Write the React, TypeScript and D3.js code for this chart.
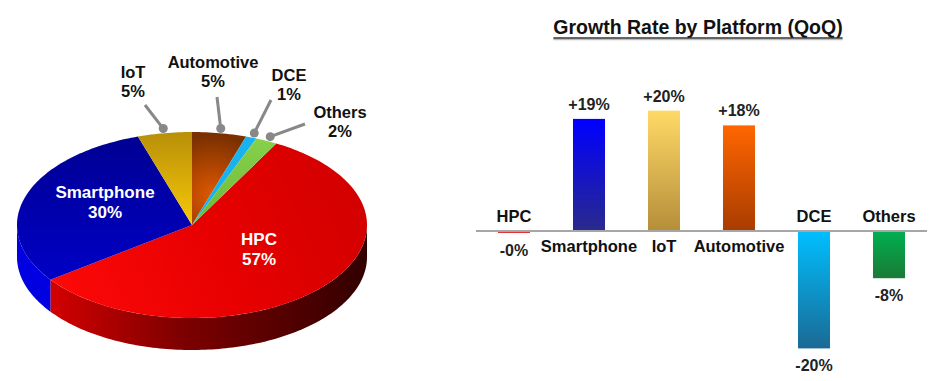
import React, { useLayoutEffect, useRef, useState } from 'react';
import * as d3 from 'd3';

// ---------- data ----------
const pieCategories = ['HPC', 'Smartphone', 'IoT', 'Automotive', 'DCE', 'Others'];
const pieShares = [57, 30, 5, 5, 1, 2];
const barCategories = ['HPC', 'Smartphone', 'IoT', 'Automotive', 'DCE', 'Others'];
const growthRates = [-0.3, 19.0, 20.4, 17.9, -19.9, -8.0];
const growthLabels = ['-0%', '+19%', '+20%', '+18%', '-20%', '-8%'];
const chartTitle = 'Growth Rate by Platform (QoQ)';

// ---------- layout / style ----------
const W = 938, H = 381;
const FONT = 'Liberation Sans, Arial, Helvetica, sans-serif';
const PIE = { cx: 192, cy: 225, rx: 175, ry: 93, depth: 32, start: 0.08 * 2 * Math.PI };
const insideLabels: Record<string, [number, number]> = {
  Smartphone: [105, 198],
  HPC: [259, 245],
};
const outsideLabels: Record<string, { x: number; y: number; lx: number; ly: number }> = {
  IoT: { x: 133, y: 78, lx: 145, ly: 105 },
  Automotive: { x: 213, y: 68, lx: 217, ly: 97 },
  DCE: { x: 289, y: 81, lx: 271, ly: 100 },
  Others: { x: 340, y: 118, lx: 305, ly: 124 },
};
const topFill: Record<string, string> = {
  HPC: 'url(#hpcTop)',
  Smartphone: 'url(#smTop)',
  IoT: 'url(#iotTop)',
  Automotive: 'url(#autoTop)',
  DCE: '#18b2ee',
  Others: 'url(#othTop)',
};
const sideFill: Record<string, string> = {
  HPC: 'url(#hpcSide)',
  Smartphone: '#0000e0',
  IoT: '#a08000',
  Automotive: '#6a2a00',
  DCE: '#0f88c0',
  Others: '#5a9a30',
};
const barColors: Record<string, [string, string]> = {
  HPC: ['#e00000', '#e00000'],
  Smartphone: ['#0000ff', '#2a2a8c'],
  IoT: ['#ffd966', '#b58e3a'],
  Automotive: ['#ff6600', '#a83c00'],
  DCE: ['#00bfff', '#1a6a94'],
  Others: ['#00b050', '#1a7a36'],
};

function pt(a: number, k = 1, dy = 0): [number, number] {
  return [PIE.cx + PIE.rx * k * Math.sin(a), PIE.cy - PIE.ry * k * Math.cos(a) + dy];
}
function arcPts(a0: number, a1: number, dy = 0) {
  const n = Math.max(2, Math.ceil(Math.abs(a1 - a0) / 0.02));
  return d3.range(n + 1).map((i) => pt(a0 + ((a1 - a0) * i) / n, 1, dy));
}

export default function App() {
  const pie = d3
    .pie<number>()
    .sort(null)
    .startAngle(PIE.start)
    .endAngle(PIE.start + 2 * Math.PI)(pieShares);

  const line = d3.line();

  const sides: { cat: string; key: string; d: string }[] = [];
  pie.forEach((s, i) => {
    [0, 2 * Math.PI].forEach((off) => {
      const lo = Math.max(s.startAngle, Math.PI / 2 + off);
      const hi = Math.min(s.endAngle, (3 * Math.PI) / 2 + off);
      if (hi > lo) {
        const top = arcPts(lo, hi);
        const bot = arcPts(hi, lo, PIE.depth);
        sides.push({ cat: pieCategories[i], key: pieCategories[i] + off, d: line([...top, ...bot])! + 'Z' });
      }
    });
  });

  const x = d3
    .scaleBand<string>()
    .domain(barCategories)
    .range([476.5, 926.5])
    .paddingInner(0.573)
    .paddingOuter(0.2865);
  const y = d3.scaleLinear().domain([-20, 20]).range([349, 113]);
  const bw = x.bandwidth();

  const titleRef = useRef<SVGTextElement>(null);
  const [tw, setTw] = useState(289);
  useLayoutEffect(() => {
    if (titleRef.current) setTw(titleRef.current.getComputedTextLength());
  }, []);
  const titleX = 698;

  return (
    <svg
      width={W}
      height={H}
      style={{ position: 'absolute', left: 0, top: 0, background: '#fff' }}
      fontFamily={FONT}
    >
      <defs>
        <linearGradient id="hpcTop" gradientUnits="userSpaceOnUse" x1={40} y1={300} x2={367} y2={160}>
          <stop offset="0" stopColor="#ff0a0a" />
          <stop offset="0.5" stopColor="#e80000" />
          <stop offset="1" stopColor="#d00000" />
        </linearGradient>
        <linearGradient id="hpcSide" gradientUnits="userSpaceOnUse" x1={50} y1={0} x2={367} y2={0}>
          <stop offset="0" stopColor="#d40000" />
          <stop offset="0.4" stopColor="#800000" />
          <stop offset="1" stopColor="#320000" />
        </linearGradient>
        <linearGradient id="smTop" gradientUnits="userSpaceOnUse" x1={0} y1={135} x2={0} y2={285}>
          <stop offset="0" stopColor="#000092" />
          <stop offset="1" stopColor="#0000c8" />
        </linearGradient>
        <linearGradient id="iotTop" gradientUnits="userSpaceOnUse" x1={0} y1={132} x2={0} y2={225}>
          <stop offset="0" stopColor="#b88f08" />
          <stop offset="1" stopColor="#f8c808" />
        </linearGradient>
        <radialGradient id="autoTop" gradientUnits="userSpaceOnUse" cx={212} cy={195} r={60}>
          <stop offset="0" stopColor="#e05800" />
          <stop offset="1" stopColor="#7a3000" />
        </radialGradient>
        <linearGradient id="othTop" gradientUnits="userSpaceOnUse" x1={0} y1={140} x2={0} y2={225}>
          <stop offset="0" stopColor="#86d04a" />
          <stop offset="1" stopColor="#6cb838" />
        </linearGradient>
        {barCategories.map((c) => (
          <linearGradient key={c} id={'bar' + c} x1="0" y1="0" x2="0" y2="1">
            <stop offset="0" stopColor={barColors[c][0]} />
            <stop offset="1" stopColor={barColors[c][1]} />
          </linearGradient>
        ))}
      </defs>

      {/* ---------- 3D pie ---------- */}
      <g>
        {sides.map((s) => (
          <path key={s.key} d={s.d} fill={sideFill[s.cat]} />
        ))}
        {pie.map((s, i) => {
          const pts: [number, number][] = [[PIE.cx, PIE.cy], ...arcPts(s.startAngle, s.endAngle)];
          return <path key={pieCategories[i]} d={line(pts)! + 'Z'} fill={topFill[pieCategories[i]]} />;
        })}
        {pie.map((s, i) => {
          const c = pieCategories[i];
          const ins = insideLabels[c];
          if (ins) {
            return (
              <text key={'l' + c} x={ins[0]} y={ins[1]} fill="#fff" fontWeight="bold" fontSize={17} textAnchor="middle">
                <tspan x={ins[0]}>{c}</tspan>
                <tspan x={ins[0]} dy={20}>{pieShares[i]}%</tspan>
              </text>
            );
          }
          const o = outsideLabels[c];
          const mid = (s.startAngle + s.endAngle) / 2;
          const [dx, dy] = pt(mid, 1.05);
          return (
            <g key={'l' + c}>
              <line x1={o.lx} y1={o.ly} x2={dx} y2={dy} stroke="#888" strokeWidth={3} />
              <circle cx={dx} cy={dy} r={4.5} fill="#888" />
              <text x={o.x} y={o.y} fill="#111" fontWeight="bold" fontSize={16.5} textAnchor="middle">
                <tspan x={o.x}>{c}</tspan>
                <tspan x={o.x} dy={19}>{pieShares[i]}%</tspan>
              </text>
            </g>
          );
        })}
      </g>

      {/* ---------- bar chart ---------- */}
      <g>
        <text ref={titleRef} x={titleX} y={34} textAnchor="middle" fontWeight="bold" fontSize={19.5} fill="#111">
          {chartTitle}
        </text>
        <line x1={titleX - tw / 2} x2={titleX + tw / 2} y1={39.5} y2={39.5} stroke="#bbb" strokeWidth={1.5} />
        <line x1={titleX - tw / 2} x2={titleX + tw / 2} y1={38} y2={38} stroke="#333" strokeWidth={1.5} />

        {barCategories.map((c, i) => {
          const v = growthRates[i];
          const y0 = y(0);
          const yv = y(v);
          const bx = x(c)!;
          const cxm = bx + bw / 2;
          const pos = v >= 0;
          return (
            <g key={c}>
              <rect
                x={bx}
                y={Math.min(y0, yv)}
                width={bw}
                height={Math.max(1.8, Math.abs(yv - y0))}
                fill={'url(#bar' + c + ')'}
              />
              <text
                x={cxm}
                y={pos ? yv - 9 : Math.max(yv, y0 + 2) + 23}
                textAnchor="middle"
                fontWeight="bold"
                fontSize={16}
                fill="#222"
              >
                {growthLabels[i]}
              </text>
              <text
                x={cxm}
                y={pos ? y0 + 21 : y0 - 9}
                textAnchor="middle"
                fontWeight="bold"
                fontSize={16.5}
                fill="#111"
              >
                {c}
              </text>
            </g>
          );
        })}
        <line x1={476} x2={927} y1={y(0)} y2={y(0)} stroke="#a6a6a6" strokeWidth={2} />
      </g>
    </svg>
  );
}
